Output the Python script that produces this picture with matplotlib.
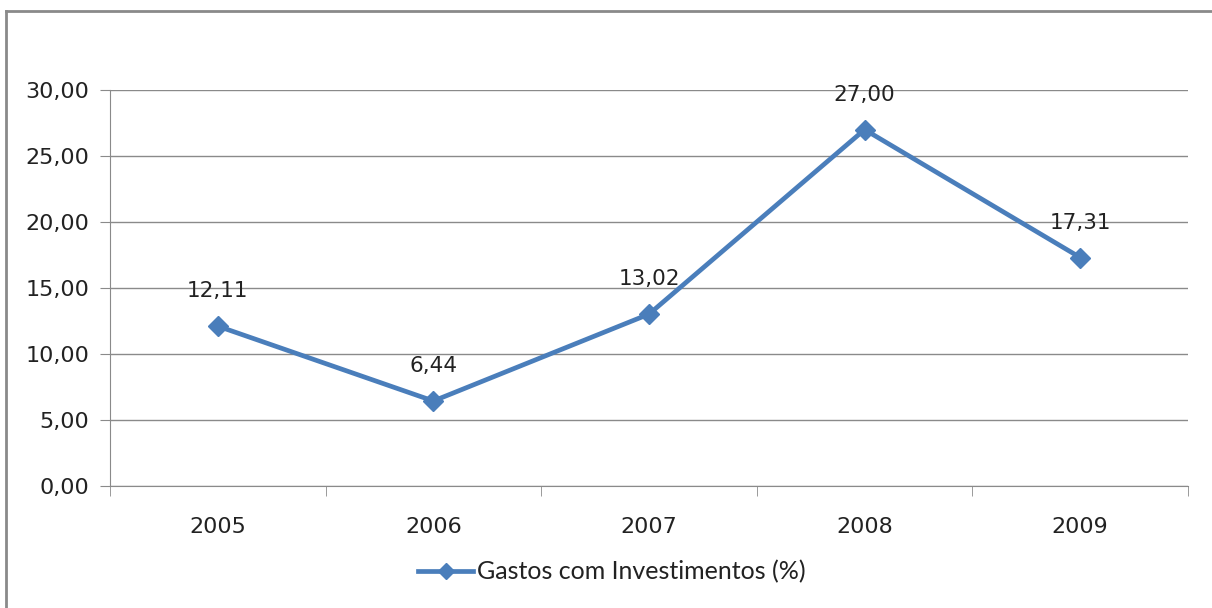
import matplotlib.pyplot as plt
from matplotlib.lines import Line2D
from matplotlib.ticker import FixedLocator

anos = ["2005", "2006", "2007", "2008", "2009"]
gastos = [12.11, 6.44, 13.02, 27.00, 17.31]
rotulos = ["12,11", "6,44", "13,02", "27,00", "17,31"]
yticks = [0, 5, 10, 15, 20, 25, 30]

azul = "#4A7EBB"
cinza = "#8A8A8A"
texto = "#222222"

fig = plt.figure(figsize=(12.12, 6.08), dpi=100)
ax = fig.add_axes([110/1212, 1 - 486/608, 1078/1212, 396/608])

x = list(range(len(anos)))
linha, = ax.plot(x, gastos, color=azul, lw=3.4, marker="D", markersize=10,
                 label="Gastos com Investimentos (%)")

for xi, yi, txt in zip(x, gastos, rotulos):
    ax.annotate(txt, (xi, yi), xytext=(0, 25), textcoords="offset points",
                ha="center", va="center", fontsize=15.5, color=texto)

ax.set_xlim(-0.5, len(anos) - 0.5)
ax.set_ylim(0, 30)
ax.set_yticks(yticks)
ax.set_yticklabels([("%.2f" % v).replace(".", ",") for v in yticks], fontsize=16, color=texto)
ax.set_xticks(x)
ax.set_xticklabels(anos, fontsize=16, color=texto)
ax.tick_params(axis="x", which="major", length=0, pad=22)
ax.xaxis.set_minor_locator(FixedLocator([i - 0.5 for i in range(len(anos) + 1)]))
ax.tick_params(axis="x", which="minor", length=7, color=cinza, direction="out")
ax.tick_params(axis="y", length=7, color=cinza, pad=8)
ax.grid(axis="y", color=cinza, lw=1)
ax.set_axisbelow(True)
for s in ["top", "right"]:
    ax.spines[s].set_visible(False)
for s in ["left", "bottom"]:
    ax.spines[s].set_color(cinza)

fig.legend(handles=[linha], loc="center", bbox_to_anchor=(612/1212, 1 - 572/608),
           frameon=False, prop={"family": "Lato", "size": 18}, handlelength=2.2,
           handletextpad=0.15, markerscale=0.8, labelcolor=texto)

# moldura do grafico
fig.add_artist(Line2D([6/1212, 1], [1 - 11/608, 1 - 11/608], color=cinza, lw=2))
fig.add_artist(Line2D([6/1212, 6/1212], [0, 1 - 11/608], color=cinza, lw=2))

fig.savefig("out.png", dpi=100)
